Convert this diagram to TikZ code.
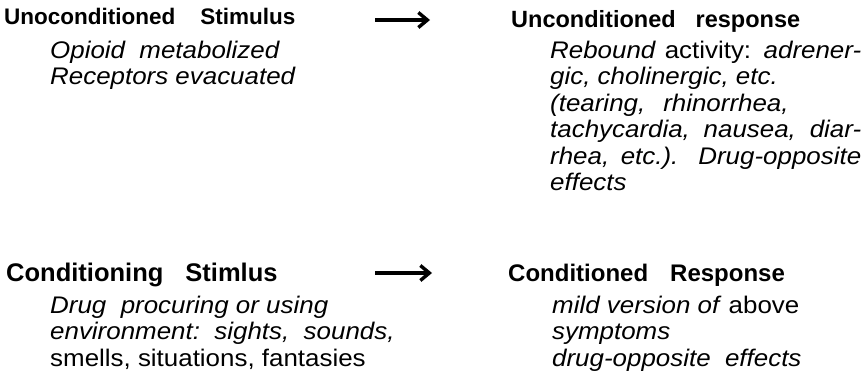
\documentclass[tikz,border=0pt]{standalone}
\usepackage{fontspec}
\setmainfont{Liberation Sans}
\newfontfamily\bodyfont{Liberation Sans}[FakeStretch=1.08]
\usetikzlibrary{arrows.meta}
\newcommand{\jline}[1]{\makebox[311pt][s]{#1}}
\tikzset{
    head/.style={anchor=base west, inner sep=0pt, font=\fontsize{#1}{#1}\selectfont\bfseries},
    head/.default=24,
    body/.style={anchor=base west, inner sep=0pt, align=left, font=\fontsize{24}{26.5}\selectfont\bodyfont\itshape},
    arr/.style={line width=3.4pt, -{Straight Barb[length=9pt, width=15pt]}},
}

\begin{document}
\begin{tikzpicture}[x=1pt, y=-1pt]
    \useasboundingbox (0, 0) rectangle (868, 385);
    \begin{scope}
        \node[head=22.5] (us) at (4, 25) {Unoconditioned\hspace{25pt}Stimulus};
        \node[body] (usbody) at (50, 85) {Opioid\ \ metabolized\\Receptors evacuated};
        \node[head=23.5] (ur) at (511, 28) {Unconditioned\hspace{20pt}response};
        \node[body] (urbody) at (550, 190.5) {%
            \jline{Rebound \textup{activity:} adrener-}\\
            gic,\ cholinergic,\ etc.\\
            (tearing,\hspace{18pt}rhinorrhea,\\
            \jline{tachycardia, nausea, diar-}\\
            \jline{rhea, etc.). Drug-opposite}\\
            effects};
        \coordinate (usout) at (375, 20);
        \coordinate (urin) at (430, 20);
        \draw[arr] (usout) -- (urin);
    \end{scope}
    \begin{scope}
        \node[head=25.5] (cs) at (6, 281) {Conditioning\hspace{22pt}Stimlus};
        \node[body] (csbody) at (50, 366) {%
            Drug\ \ procuring or using\\
            environment:\ \ sights,\ \ sounds,\\
            \textup{smells,\ situations,\ fantasies}};
        \node[head] (cr) at (508, 281) {Conditioned\hspace{22pt}Response};
        \node[body] (crbody) at (552, 366) {%
            mild version of \textup{above}\\
            symptoms\\
            drug-opposite\ \ effects};
        \coordinate (csout) at (375, 273);
        \coordinate (crin) at (432, 273);
        \draw[arr] (csout) -- (crin);
    \end{scope}
\end{tikzpicture}
\end{document}
